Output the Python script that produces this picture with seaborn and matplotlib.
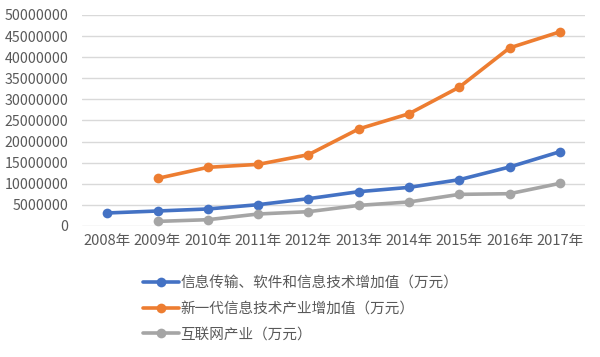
import numpy as np
import pandas as pd
import matplotlib
matplotlib.use("Agg")
import matplotlib.pyplot as plt
import seaborn as sns

years = ["2008年", "2009年", "2010年", "2011年", "2012年", "2013年", "2014年", "2015年", "2016年", "2017年"]
series_names = ["信息传输、软件和信息技术增加值（万元）", "新一代信息技术产业增加值（万元）", "互联网产业（万元）"]
info_transfer = [3080000, 3550000, 4030000, 5050000, 6470000, 8130000, 9150000, 10970000, 13980000, 17600000]
new_gen_it = [np.nan, 11280000, 13900000, 14600000, 16900000, 23000000, 26600000, 32900000, 42200000, 46000000]
internet = [np.nan, 1090000, 1490000, 2840000, 3390000, 4880000, 5690000, 7490000, 7650000, 10100000]
colors = ["#4472C4", "#ED7D31", "#A5A5A5"]
y_ticks = list(range(0, 50000001, 5000000))

rows = []
for name, vals in zip(series_names, [info_transfer, new_gen_it, internet]):
    for i, (yr, v) in enumerate(zip(years, vals)):
        if not np.isnan(v):
            rows.append({"year": yr, "idx": i, "value": v, "series": name})
df = pd.DataFrame(rows)

sns.set_theme(style="white")
plt.rcParams['font.family'] = ['Noto Sans CJK SC', 'DejaVu Sans']
text_color = "#595959"

fig = plt.figure(figsize=(6.0, 3.57), dpi=100)
ax = fig.add_axes([0.137, 0.367, 0.838, 0.591])

sns.lineplot(data=df, x="idx", y="value", hue="series", hue_order=series_names,
             palette=colors, marker="o", markersize=7, markeredgewidth=0,
             linewidth=2.6, ax=ax, legend=True, sort=True)

ax.set_xlim(-0.5, len(years) - 0.5)
ax.set_ylim(0, 50000000)
ax.set_yticks(y_ticks)
ax.set_yticklabels([str(t) for t in y_ticks], fontsize=10.2, color=text_color)
ax.set_xticks(range(len(years)))
ax.set_xticklabels(years, fontsize=10.5, color=text_color)
ax.set_xlabel("")
ax.set_ylabel("")
ax.grid(axis="y", color="#D9D9D9", linewidth=1)
ax.set_axisbelow(True)
for s in ax.spines.values():
    s.set_visible(False)
ax.tick_params(axis="both", length=0, pad=6)
ax.tick_params(axis="y", pad=10)

handles, labels = ax.get_legend_handles_labels()
ax.legend_.remove()
fig.legend(handles, labels, loc="upper left", bbox_to_anchor=(0.228, 0.243),
           frameon=False, fontsize=10.5, handlelength=2.5, handletextpad=0.1,
           labelspacing=0.8, labelcolor=text_color, borderaxespad=0)

fig.savefig("out.png", dpi=100)
